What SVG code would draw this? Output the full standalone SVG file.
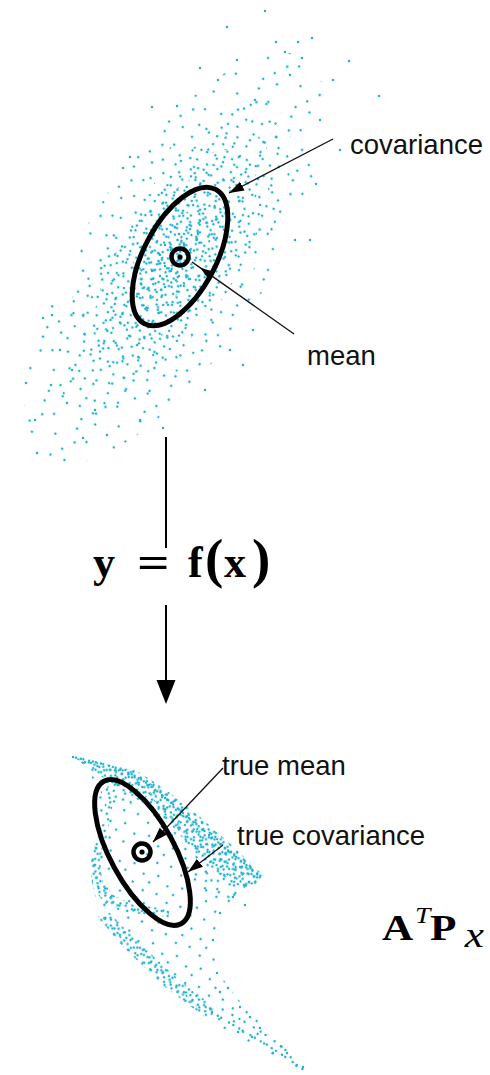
<svg xmlns="http://www.w3.org/2000/svg" width="490" height="1075" viewBox="0 0 490 1075">
<style>
.d{fill:#22b1d1}
.lbl{font-family:"Liberation Sans",Arial,sans-serif;font-size:27.5px;fill:#111}
.ell{fill:none;stroke:#000;stroke-width:5}
.ring{fill:none;stroke:#000;stroke-width:4.5}
.lead{stroke:#111;stroke-width:1.3;fill:none}
.conn{stroke:#000;stroke-width:2;fill:none}
.band{fill:none;stroke:#22b1d1;stroke-width:2.4;stroke-linecap:round}
.math{font-family:"Liberation Serif","Times New Roman",serif;font-weight:bold;fill:#000}
.mit{font-family:"Liberation Serif","Times New Roman",serif;font-style:italic;fill:#000}
</style>
<defs>
<pattern id="pD" width="47" height="43" patternUnits="userSpaceOnUse" patternTransform="rotate(8)">
<circle class="d" cx="10" cy="6" r="1.25"/><circle class="d" cx="38" cy="11" r="1.25"/><circle class="d" cx="24" cy="25" r="1.25"/><circle class="d" cx="5" cy="35" r="1.25"/><circle class="d" cx="42" cy="38" r="1.25"/><circle class="d" cx="30" cy="2.2" r="1.25"/><circle class="d" cx="17" cy="40" r="1.25"/>
</pattern>
<pattern id="pB" width="37" height="41" patternUnits="userSpaceOnUse" patternTransform="rotate(19)">
<circle class="d" cx="6" cy="8" r="1.25"/><circle class="d" cx="30" cy="4" r="1.25"/><circle class="d" cx="19" cy="17" r="1.25"/><circle class="d" cx="3" cy="30" r="1.25"/><circle class="d" cx="27" cy="33" r="1.25"/><circle class="d" cx="14" cy="38" r="1.25"/><circle class="d" cx="34" cy="22" r="1.25"/>
</pattern>
<pattern id="pF" width="29" height="33" patternUnits="userSpaceOnUse" patternTransform="rotate(-26)">
<circle class="d" cx="5" cy="12" r="1.25"/><circle class="d" cx="14" cy="3" r="1.25"/><circle class="d" cx="22" cy="19" r="1.25"/><circle class="d" cx="10" cy="27" r="1.25"/><circle class="d" cx="25" cy="6" r="1.25"/>
</pattern>
<pattern id="pA" width="31" height="29" patternUnits="userSpaceOnUse">
<circle class="d" cx="3" cy="5" r="1.25"/><circle class="d" cx="17" cy="2.5" r="1.25"/><circle class="d" cx="26" cy="12" r="1.25"/><circle class="d" cx="9" cy="18" r="1.25"/><circle class="d" cx="21" cy="23" r="1.25"/><circle class="d" cx="13" cy="10" r="1.25"/>
</pattern>
<pattern id="pC" width="23" height="26" patternUnits="userSpaceOnUse" patternTransform="rotate(47)">
<circle class="d" cx="4" cy="3" r="1.25"/><circle class="d" cx="15" cy="9" r="1.25"/><circle class="d" cx="8" cy="19" r="1.25"/><circle class="d" cx="20" cy="22" r="1.25"/>
</pattern>
<pattern id="pE" width="19" height="21" patternUnits="userSpaceOnUse" patternTransform="rotate(-61)">
<circle class="d" cx="2.5" cy="4" r="1.25"/><circle class="d" cx="11" cy="13" r="1.25"/><circle class="d" cx="16" cy="2.5" r="1.25"/>
</pattern>
<pattern id="pA2" width="31" height="29" patternUnits="userSpaceOnUse" patternTransform="rotate(37)">
<circle class="d" cx="5" cy="3" r="1.25"/><circle class="d" cx="20" cy="7" r="1.25"/><circle class="d" cx="12" cy="15" r="1.25"/><circle class="d" cx="27" cy="19" r="1.25"/><circle class="d" cx="7" cy="25" r="1.25"/><circle class="d" cx="18" cy="26" r="1.25"/>
</pattern>
<pattern id="pG" width="27" height="31" patternUnits="userSpaceOnUse" patternTransform="rotate(28)">
<circle class="d" cx="4" cy="6" r="1.25"/><circle class="d" cx="18" cy="3" r="1.25"/><circle class="d" cx="11" cy="17" r="1.25"/><circle class="d" cx="24" cy="22" r="1.25"/><circle class="d" cx="6" cy="27" r="1.25"/>
</pattern>
<pattern id="pH" width="21" height="19" patternUnits="userSpaceOnUse" patternTransform="rotate(-33)">
<circle class="d" cx="3" cy="4" r="1.25"/><circle class="d" cx="13" cy="9" r="1.25"/><circle class="d" cx="8" cy="15" r="1.25"/><circle class="d" cx="18" cy="2.5" r="1.25"/>
</pattern>
<pattern id="pI" width="17" height="16" patternUnits="userSpaceOnUse" patternTransform="rotate(61)">
<circle class="d" cx="3" cy="3" r="1.25"/><circle class="d" cx="11" cy="8" r="1.25"/><circle class="d" cx="5" cy="13" r="1.25"/>
</pattern>
<pattern id="pJ" width="13" height="12" patternUnits="userSpaceOnUse" patternTransform="rotate(17)">
<circle class="d" cx="2" cy="3" r="1.25"/><circle class="d" cx="8" cy="1.5" r="1.25"/><circle class="d" cx="5" cy="8" r="1.25"/><circle class="d" cx="11" cy="7" r="1.25"/>
</pattern>
<pattern id="pK" width="11" height="10" patternUnits="userSpaceOnUse" patternTransform="rotate(-42)">
<circle class="d" cx="2" cy="2" r="1.25"/><circle class="d" cx="7" cy="6" r="1.25"/><circle class="d" cx="9.5" cy="1.5" r="1.25"/>
</pattern>
<marker id="ah" markerUnits="userSpaceOnUse" markerWidth="16" markerHeight="11" refX="15" refY="5" orient="auto"><path d="M0,0 L15,5 L0,10 Z" fill="#000"/></marker>
<marker id="bah" markerUnits="userSpaceOnUse" markerWidth="25" markerHeight="20" refX="14" refY="9.5" orient="auto"><path d="M0,0 L24,9.5 L0,19 Z" fill="#000"/></marker>
</defs>
<rect width="490" height="1075" fill="#fff"/>

<g id="top-cloud">
<g transform="translate(175,258) rotate(-57)">
<ellipse rx="238" ry="92" fill="url(#pD)"/>
<ellipse rx="182" ry="74" fill="url(#pB)"/>
<ellipse rx="148" ry="62" fill="url(#pF)"/>
<ellipse rx="125" ry="54" fill="url(#pA)"/>
<ellipse rx="100" ry="45" fill="url(#pC)"/>
<ellipse rx="76" ry="35" fill="url(#pE)"/>
<ellipse rx="55" ry="26" fill="url(#pA2)"/>
<ellipse rx="36" ry="18" fill="url(#pH)"/>
</g>
<g class="d">
<circle cx="265" cy="11" r="1.25"/><circle cx="227" cy="27" r="1.25"/><circle cx="312" cy="38" r="1.25"/><circle cx="298" cy="42" r="1.25"/><circle cx="276" cy="42" r="1.25"/><circle cx="285" cy="52" r="1.25"/><circle cx="349" cy="61" r="1.25"/><circle cx="237" cy="60" r="1.25"/><circle cx="302" cy="58" r="1.25"/><circle cx="379" cy="96" r="1.25"/><circle cx="333" cy="80" r="1.25"/><circle cx="218" cy="80" r="1.25"/><circle cx="152" cy="107" r="1.25"/><circle cx="177" cy="106" r="1.25"/><circle cx="316" cy="184" r="1.25"/><circle cx="310" cy="240" r="1.25"/><circle cx="295" cy="240" r="1.25"/><circle cx="43" cy="318" r="1.25"/><circle cx="52" cy="315" r="1.25"/><circle cx="26" cy="383" r="1.25"/><circle cx="37" cy="453" r="1.25"/><circle cx="51" cy="385" r="1.25"/><circle cx="163" cy="428" r="1.25"/><circle cx="67" cy="403" r="1.25"/><circle cx="83" cy="438" r="1.25"/><circle cx="107" cy="435" r="1.25"/><circle cx="72" cy="370" r="1.25"/><circle cx="243" cy="365" r="1.25"/><circle cx="253" cy="330" r="1.25"/><circle cx="130" cy="157" r="1.25"/><circle cx="123" cy="168" r="1.25"/><circle cx="255" cy="100" r="1.25"/><circle cx="290" cy="75" r="1.25"/><circle cx="320" cy="120" r="1.25"/><circle cx="200" cy="68" r="1.25"/><circle cx="340" cy="150" r="1.25"/><circle cx="60" cy="350" r="1.25"/><circle cx="95" cy="410" r="1.25"/><circle cx="140" cy="420" r="1.25"/><circle cx="205" cy="390" r="1.25"/><circle cx="230" cy="350" r="1.25"/><circle cx="35" cy="420" r="1.25"/>
</g>
</g>

<g id="top-covariance"><ellipse class="ell" cx="180" cy="256.5" rx="76" ry="36" transform="rotate(-62 180 256.5)"/></g>
<g id="top-mean"><circle class="ring" cx="180" cy="257" r="8.5"/><circle cx="180" cy="257" r="2.6" fill="#000"/></g>
<g id="label-covariance"><text class="lbl" x="350" y="154">covariance</text></g>
<g id="label-mean"><text class="lbl" x="307" y="365">mean</text></g>

<g id="equation">
<text class="math" x="93" y="577" font-size="44">y</text>
<text class="math" transform="translate(137,577) scale(1.3,1)" font-size="44">=</text>
<text class="math" x="188" y="577" font-size="44">f</text>
<text class="math" x="205" y="577" font-size="55">(</text>
<text class="math" x="224" y="577" font-size="44">x</text>
<text class="math" x="252" y="577" font-size="55">)</text>
</g>

<g id="bottom-cloud">
<path d="M72,757 L137,772 L190,808 L262,876 L245,893 L222,910 L214,940 L220,975 L245,1008 L280,1042 L306,1072 L270,1056 L225,1034 L195,1005 L160,972 L120,938 L100,915 L92,885 L92,850 L98,810 L98,775 Z" fill="url(#pG)"/>
<path d="M150,790 L262,876 L240,895 L215,905 L195,880 L170,840 Z" fill="url(#pH)"/>
<path d="M80,760 L135,772 L160,790 L130,805 L108,812 L100,790 Z" fill="url(#pI)"/>
<g id="dense-bands">
<path d="M72,757 L100,763 L137,771 L165,789 L200,817 L235,848 L264,876 L256,887 L236,886 L214,870 L193,850 L172,826 L148,806 L120,789 L96,773 L84,765 Z" fill="url(#pJ)"/>
<path d="M72,757 L100,763 L137,771 L165,789 L200,817 L235,848 L264,876 L256,887 L236,886 L214,870 L193,850 L172,826 L148,806 L120,789 L96,773 L84,765 Z" fill="url(#pK)"/>
<path d="M99,832 L91,858 L92,886 L104,903 L130,913 L168,917 L170,909 L134,905 L113,895 L102,880 L100,860 L105,838 Z" fill="url(#pJ)"/>
<path d="M99,832 L91,858 L92,886 L104,903 L130,913 L168,917 L170,909 L134,905 L113,895 L102,880 L100,860 L105,838 Z" fill="url(#pK)"/>
<path d="M97,917 L125,949 L165,987 L206,1018 L216,1012 L210,1004 L176,977 L137,941 L110,913 Z" fill="url(#pJ)"/>
<path d="M97,917 L125,949 L165,987 L206,1018 L216,1012 L210,1004 L176,977 L137,941 L110,913 Z" fill="url(#pK)"/>
<path d="M108,782 L100,840 L106,842 L116,785 Z" fill="url(#pJ)"/>
<path class="band" stroke-dasharray="0 3 0 5 0 2.5 0 6 0 4" d="M73,757 C100,763 125,768 145,782 S210,838 262,877"/>
<path class="band" stroke-dasharray="0 7 0 4 0 9 0 5" d="M212,1012 C240,1030 272,1046 305,1071"/>
<path class="band" stroke-dasharray="0 6 0 11 0 8" stroke-dashoffset="3" d="M220,1008 C245,1022 268,1034 290,1054"/>
</g>
<g class="d">
<circle cx="273" cy="1053" r="1.25"/><circle cx="287" cy="1053" r="1.25"/><circle cx="303" cy="1067" r="1.25"/><circle cx="250" cy="1017" r="1.25"/><circle cx="260" cy="1028" r="1.25"/><circle cx="240" cy="1007" r="1.25"/><circle cx="228" cy="988" r="1.25"/><circle cx="220" cy="992" r="1.25"/><circle cx="252" cy="1037" r="1.25"/><circle cx="238" cy="1032" r="1.25"/><circle cx="233" cy="897" r="1.25"/><circle cx="220" cy="913" r="1.25"/><circle cx="213" cy="940" r="1.25"/><circle cx="217" cy="973" r="1.25"/><circle cx="245" cy="905" r="1.25"/>
</g>
</g>

<g id="bottom-covariance"><ellipse class="ell" cx="142.5" cy="852.5" rx="81" ry="32" transform="rotate(61.5 142.5 852.5)"/></g>
<g id="bottom-mean"><circle class="ring" cx="142" cy="852" r="8.5"/><circle cx="142" cy="852" r="2.6" fill="#000"/></g>
<g id="label-true-mean"><text class="lbl" x="222" y="775">true mean</text></g>
<g id="label-true-covariance"><text class="lbl" x="237" y="845">true covariance</text></g>

<g id="ATPx" transform="translate(382,940) scale(1.2,1)">
<text class="math" x="0" y="0" font-size="36">A</text>
<text class="mit" x="27.5" y="-17" font-size="23">T</text>
<text class="math" x="40" y="0" font-size="36">P</text>
<text class="mit" x="69" y="7" font-size="36">x</text>
</g>

<g id="connectors">
<line class="lead" x1="333" y1="139" x2="229" y2="193" marker-end="url(#ah)"/>
<path class="lead" d="M294,334 L200,267.6 L192,262" marker-mid="url(#ah)"/>
<line class="lead" x1="223" y1="768" x2="153" y2="842" marker-end="url(#ah)"/>
<line class="lead" x1="223" y1="845" x2="188" y2="872" marker-end="url(#ah)"/>
<line class="conn" x1="166" y1="437" x2="166" y2="548"/>
<line class="conn" x1="166" y1="605" x2="166" y2="694" marker-end="url(#bah)"/>
</g>
</svg>
